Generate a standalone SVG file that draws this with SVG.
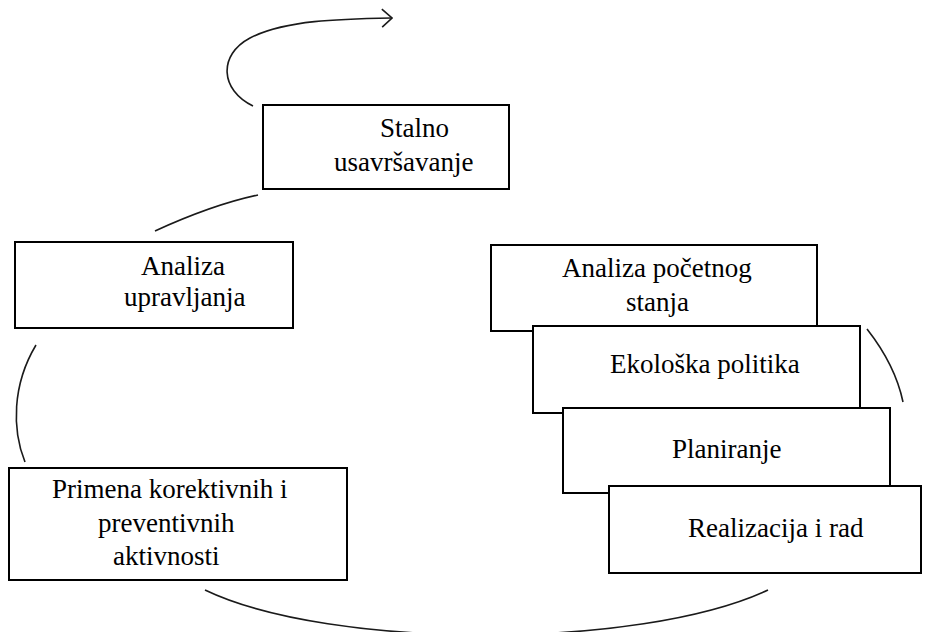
<svg xmlns="http://www.w3.org/2000/svg" width="925" height="632" viewBox="0 0 925 632">
  <defs>
    <marker id="openArrow" viewBox="0 0 12 20" refX="11" refY="10" markerWidth="12" markerHeight="20" markerUnits="userSpaceOnUse" orient="auto">
      <path d="M1,1 L11,10 L1,19" fill="none" stroke="#1a1a1a" stroke-width="1.6"/>
    </marker>
  </defs>
  <rect width="925" height="632" fill="#ffffff"/>

  <!-- cycle connectors -->
  <g id="connectors" fill="none" stroke="#1a1a1a" stroke-width="1.6">
    <path d="M253,106 C220,90 218,55 250,38 C285,20 340,19 392,18" marker-end="url(#openArrow)"/>
    <path d="M155,231 C190,215 225,202 258,195"/>
    <path d="M36,345 C12,385 12,430 25,462"/>
    <path d="M205,590 C330,650 640,650 768,590"/>
    <path d="M867,329 C885,352 898,378 903,402"/>
  </g>

  <!-- step boxes: white rectangles with 2px black outline, serif labels placed by their left edge -->
  <g id="stalno-usavrsavanje">
    <rect x="263" y="105" width="246" height="84" fill="#ffffff" stroke="#000000" stroke-width="2"/>
    <text x="380" y="137" font-family="Liberation Serif" font-size="27">Stalno</text>
    <text x="334" y="171" font-family="Liberation Serif" font-size="27">usavršavanje</text>
  </g>

  <g id="analiza-upravljanja">
    <rect x="15" y="242" width="278" height="86" fill="#ffffff" stroke="#000000" stroke-width="2"/>
    <text x="141" y="275" font-family="Liberation Serif" font-size="27">Analiza</text>
    <text x="124" y="306" font-family="Liberation Serif" font-size="27">upravljanja</text>
  </g>

  <g id="analiza-pocetnog-stanja">
    <rect x="491" y="245" width="326" height="86" fill="#ffffff" stroke="#000000" stroke-width="2"/>
    <text x="562" y="277" font-family="Liberation Serif" font-size="27">Analiza početnog</text>
    <text x="626" y="311" font-family="Liberation Serif" font-size="27">stanja</text>
  </g>

  <g id="ekoloska-politika">
    <rect x="533" y="326" width="327" height="87" fill="#ffffff" stroke="#000000" stroke-width="2"/>
    <text x="610" y="373" font-family="Liberation Serif" font-size="27">Ekološka politika</text>
  </g>

  <g id="planiranje">
    <rect x="563" y="408" width="327" height="85" fill="#ffffff" stroke="#000000" stroke-width="2"/>
    <text x="672" y="458" font-family="Liberation Serif" font-size="27">Planiranje</text>
  </g>

  <g id="realizacija-i-rad">
    <rect x="609" y="486" width="312" height="87" fill="#ffffff" stroke="#000000" stroke-width="2"/>
    <text x="688" y="537" font-family="Liberation Serif" font-size="27">Realizacija i rad</text>
  </g>

  <g id="primena-aktivnosti">
    <rect x="9" y="468" width="338" height="112" fill="#ffffff" stroke="#000000" stroke-width="2"/>
    <text x="52" y="498" font-family="Liberation Serif" font-size="27">Primena korektivnih i</text>
    <text x="98" y="532" font-family="Liberation Serif" font-size="27">preventivnih</text>
    <text x="113" y="565" font-family="Liberation Serif" font-size="27">aktivnosti</text>
  </g>
</svg>
